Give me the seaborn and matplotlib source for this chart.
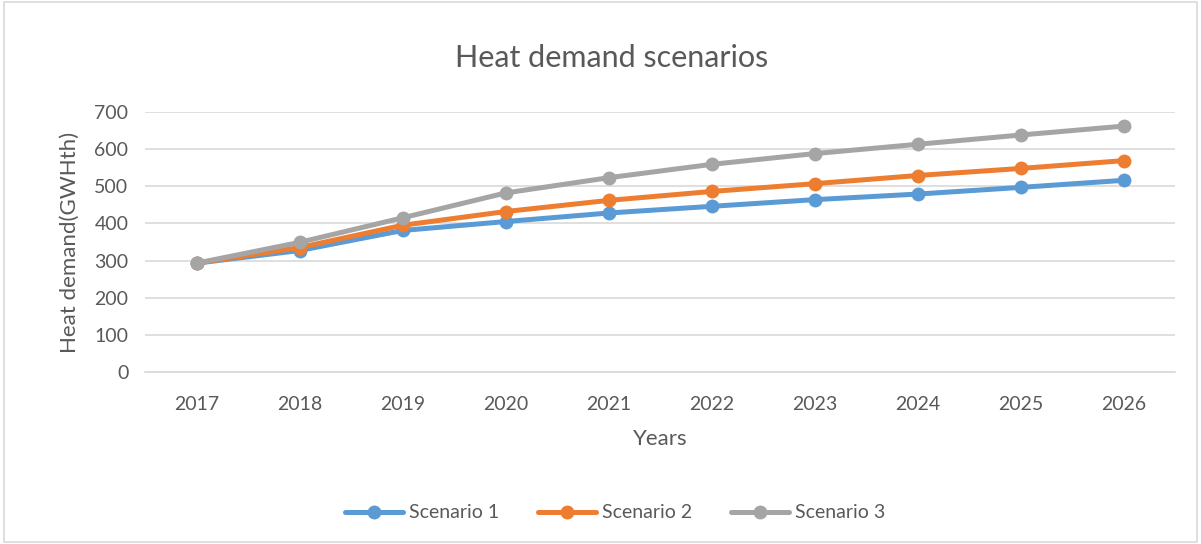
import matplotlib
matplotlib.use("Agg")
import matplotlib.pyplot as plt
import seaborn as sns
import pandas as pd

years = [2017, 2018, 2019, 2020, 2021, 2022, 2023, 2024, 2025, 2026]
scenario_1 = [293, 327, 381, 405, 428, 446, 464, 479, 497, 516]
scenario_2 = [293, 335, 395, 432, 462, 486, 507, 529, 548, 569]
scenario_3 = [293, 349, 415, 482, 523, 559, 588, 613, 638, 662]
names = ["Scenario 1", "Scenario 2", "Scenario 3"]
colors = ["#5b9bd5", "#ed7d31", "#a5a5a5"]

df = pd.concat([
    pd.DataFrame({"Year": years, "Demand": vals, "Scenario": name})
    for name, vals in zip(names, [scenario_1, scenario_2, scenario_3])
])

sns.set_style("white")
plt.rcParams['font.family'] = ['Lato', 'DejaVu Sans']
text_col = "#595959"

fig = plt.figure(figsize=(12.01, 5.44), dpi=100)
ax = fig.add_axes([145 / 1201, 1 - 372 / 544, 1030 / 1201, 260 / 544])

sns.lineplot(data=df, x="Year", y="Demand", hue="Scenario", palette=colors,
             marker="o", markersize=10, markeredgewidth=0, linewidth=3.6,
             ax=ax)

ax.set_xlim(2016.5, 2026.5)
ax.set_ylim(0, 700)
ax.set_xticks(years)
ax.set_xticklabels([str(y) for y in years])
ax.set_yticks(range(0, 701, 100))
ax.tick_params(axis='both', labelsize=14, colors=text_col, length=0)
ax.tick_params(axis='x', pad=17)
ax.tick_params(axis='y', pad=12)
ax.yaxis.grid(True, color="#d9d9d9", linewidth=1.2)
ax.set_axisbelow(True)
for side in ["top", "right", "left"]:
    ax.spines[side].set_visible(False)
ax.spines["bottom"].set_color("#d9d9d9")
ax.spines["bottom"].set_linewidth(1.2)

ax.set_xlabel("Years", fontsize=16, color=text_col, labelpad=12)
ax.set_ylabel("Heat demand(GWHth)", fontsize=16, color=text_col, labelpad=10)
fig.text(612 / 1201, 1 - 58 / 544, "Heat demand scenarios", fontsize=22,
         color=text_col, ha="center", va="center")

handles, labels = ax.get_legend_handles_labels()
ax.legend(handles, labels, loc="center", bbox_to_anchor=(615 / 1201, 1 - 513 / 544),
          bbox_transform=fig.transFigure, ncol=3, frameon=False, fontsize=14,
          handlelength=3, columnspacing=2.0, handletextpad=0.3,
          labelcolor=text_col)

fig.patches.append(plt.Rectangle((0.003, 0.003), 0.994, 0.994, transform=fig.transFigure,
                                 fill=False, edgecolor="#d9d9d9", linewidth=1.2))

plt.savefig("out.png", dpi=100)
